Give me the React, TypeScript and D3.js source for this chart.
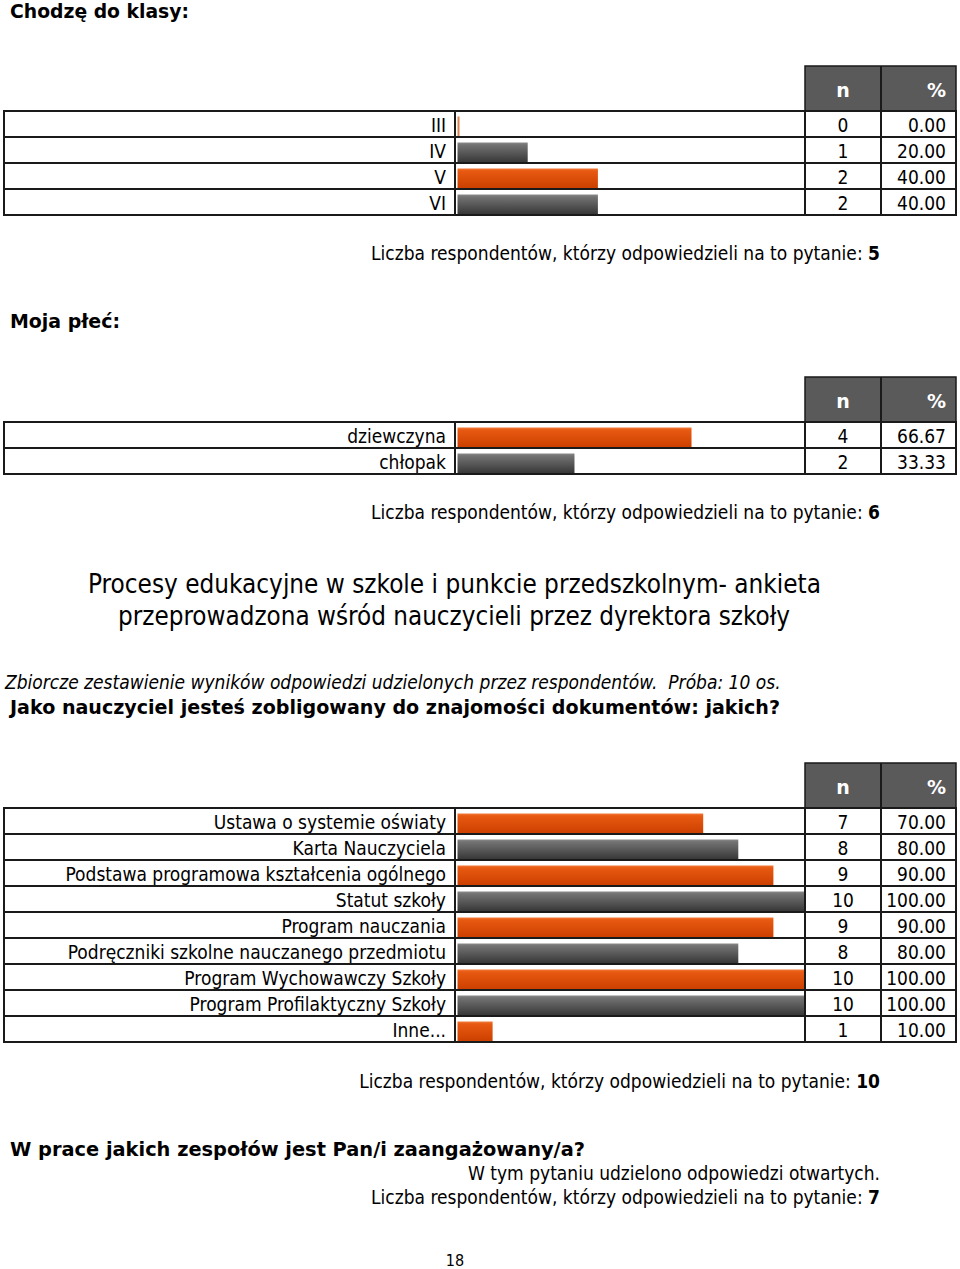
import React from "react";
import * as d3 from "d3";

// ---------- data ----------
const classCategories = ["III", "IV", "V", "VI"];
const classCounts = [0, 1, 2, 2];
const classPercents = [0, 20, 40, 40];
const classTotal = 5;

const genderCategories = ["dziewczyna", "chłopak"];
const genderCounts = [4, 2];
const genderPercents = [66.67, 33.33];
const genderTotal = 6;

const docCategories = [
  "Ustawa o systemie oświaty",
  "Karta Nauczyciela",
  "Podstawa programowa kształcenia ogólnego",
  "Statut szkoły",
  "Program nauczania",
  "Podręczniki szkolne nauczanego przedmiotu",
  "Program Wychowawczy Szkoły",
  "Program Profilaktyczny Szkoły",
  "Inne...",
];
const docCounts = [7, 8, 9, 10, 9, 8, 10, 10, 1];
const docPercents = [70, 80, 90, 100, 90, 80, 100, 100, 10];
const docTotal = 10;
const openTotal = 7;

const headerLabels = ["n", "%"];

// ---------- layout / style ----------
const W = 960;
const H = 1269;
const FONT = "'DejaVu Sans Condensed', 'DejaVu Sans', Tahoma, sans-serif";
const BOLDFONT = "'DejaVu Sans', Tahoma, sans-serif";
const tableLeft = 4;
const labelRight = 455;
const nLeft = 805;
const pctLeft = 881;
const tableRight = 956;
const rowH = 26;
const headerH = 45;
const LINE = "#1a1a1a";

const x = d3.scaleLinear().domain([0, 100]).range([457.5, 808.5]);

type TableProps = {
  top: number;
  cats: string[];
  counts: number[];
  pcts: number[];
  id: string;
};

function Table({ top, cats, counts, pcts, id }: TableProps) {
  const y = d3
    .scaleBand<number>()
    .domain(d3.range(cats.length))
    .range([top, top + rowH * cats.length]);
  const bottom = top + rowH * cats.length;
  const hTop = top - headerH;
  return (
    <g>
      <defs>
        <linearGradient id={`${id}-o`} x1="0" y1="0" x2="0" y2="1">
          <stop offset="0" stopColor="#f07a3a" />
          <stop offset="0.12" stopColor="#e85a12" />
          <stop offset="1" stopColor="#cc4000" />
        </linearGradient>
        <linearGradient id={`${id}-g`} x1="0" y1="0" x2="0" y2="1">
          <stop offset="0" stopColor="#8a8a8a" />
          <stop offset="0.12" stopColor="#737373" />
          <stop offset="1" stopColor="#383838" />
        </linearGradient>
      </defs>
      {/* header */}
      <rect x={nLeft} y={hTop} width={tableRight - nLeft} height={headerH} fill="#5a5a5a" stroke={LINE} strokeWidth={1.5} />
      <line x1={pctLeft} x2={pctLeft} y1={hTop} y2={top} stroke={LINE} strokeWidth={2} />
      <text x={(nLeft + pctLeft) / 2} y={hTop + 31} textAnchor="middle" fill="#fff" fontWeight="bold" fontSize={19} fontFamily={BOLDFONT}>
        {headerLabels[0]}
      </text>
      <text x={tableRight - 10} y={hTop + 31} textAnchor="end" fill="#fff" fontWeight="bold" fontSize={19} fontFamily={BOLDFONT}>
        {headerLabels[1]}
      </text>
      {/* bars */}
      {cats.map((c, i) => {
        const yy = y(i)!;
        const w = Math.max(2, Math.min(x(pcts[i]), nLeft) - x(0));
        const orange = i % 2 === 0;
        return (
          <g key={c}>
            <rect
              x={x(0)}
              y={yy + 5.5}
              width={w}
              height={19.5}
              fill={pcts[i] === 0 ? "#d9844e" : `url(#${id}-${orange ? "o" : "g"})`}
            />
            <text x={446} y={yy + 20.5} textAnchor="end" fontSize={19} fontFamily={FONT} fill="#000">
              {c}
            </text>
            <text x={(nLeft + pctLeft) / 2} y={yy + 20.5} textAnchor="middle" fontSize={19} fontFamily={FONT} fill="#000">
              {counts[i]}
            </text>
            <text x={tableRight - 10} y={yy + 20.5} textAnchor="end" fontSize={19} fontFamily={FONT} fill="#000">
              {d3.format(".2f")(pcts[i])}
            </text>
          </g>
        );
      })}
      {/* grid */}
      <rect x={tableLeft} y={top} width={tableRight - tableLeft} height={bottom - top} fill="none" stroke={LINE} strokeWidth={2} />
      {d3.range(1, cats.length).map((i) => (
        <line key={i} x1={tableLeft} x2={tableRight} y1={y(i)!} y2={y(i)!} stroke={LINE} strokeWidth={2} />
      ))}
      {[labelRight, nLeft, pctLeft].map((lx) => (
        <line key={lx} x1={lx} x2={lx} y1={top} y2={bottom} stroke={LINE} strokeWidth={2} />
      ))}
    </g>
  );
}

function Count({ y, n }: { y: number; n: number }) {
  return (
    <text x={880} y={y} textAnchor="end" fontSize={19} fontFamily={FONT} fill="#000">
      Liczba respondentów, którzy odpowiedzieli na to pytanie:{" "}
      <tspan fontWeight="bold">{n}</tspan>
    </text>
  );
}

function Heading({ x, y, len, children }: { x: number; y: number; len: number; children: React.ReactNode }) {
  return (
    <text x={x} y={y} fontSize={19} fontWeight="bold" fontFamily={BOLDFONT} fill="#000" textLength={len} lengthAdjust="spacingAndGlyphs">
      {children}
    </text>
  );
}

export default function App() {
  return (
    <svg
      width={W}
      height={H}
      viewBox={`0 0 ${W} ${H}`}
      style={{ position: "absolute", left: 0, top: 0, background: "#fff" }}
    >
      <rect width={W} height={H} fill="#fff" />
      <Heading x={10} y={18} len={179}>Chodzę do klasy:</Heading>
      <Table top={111} cats={classCategories} counts={classCounts} pcts={classPercents} id="t1" />
      <Count y={260} n={classTotal} />

      <Heading x={10} y={328} len={110}>Moja płeć:</Heading>
      <Table top={422} cats={genderCategories} counts={genderCounts} pcts={genderPercents} id="t2" />
      <Count y={519} n={genderTotal} />

      <text x={88} y={593} fontSize={26} fontFamily={FONT} fill="#000" textLength={733} lengthAdjust="spacingAndGlyphs">
        Procesy edukacyjne w szkole i punkcie przedszkolnym- ankieta
      </text>
      <text x={118} y={625} fontSize={26} fontFamily={FONT} fill="#000" textLength={672} lengthAdjust="spacingAndGlyphs">
        przeprowadzona wśród nauczycieli przez dyrektora szkoły
      </text>
      <text x={5} y={689} fontSize={19} fontStyle="italic" fontFamily={FONT} fill="#000" xmlSpace="preserve">
        Zbiorcze zestawienie wyników odpowiedzi udzielonych przez respondentów.  Próba: 10 os.
      </text>
      <Heading x={10} y={714} len={770}>Jako nauczyciel jesteś zobligowany do znajomości dokumentów: jakich?</Heading>
      <Table top={808} cats={docCategories} counts={docCounts} pcts={docPercents} id="t3" />
      <Count y={1088} n={docTotal} />

      <Heading x={10} y={1156} len={575}>W prace jakich zespołów jest Pan/i zaangażowany/a?</Heading>
      <text x={880} y={1180} textAnchor="end" fontSize={19} fontFamily={FONT} fill="#000">
        W tym pytaniu udzielono odpowiedzi otwartych.
      </text>
      <Count y={1204} n={openTotal} />
      <text x={455} y={1266} textAnchor="middle" fontSize={16} fontFamily={FONT} fill="#000">
        18
      </text>
    </svg>
  );
}
